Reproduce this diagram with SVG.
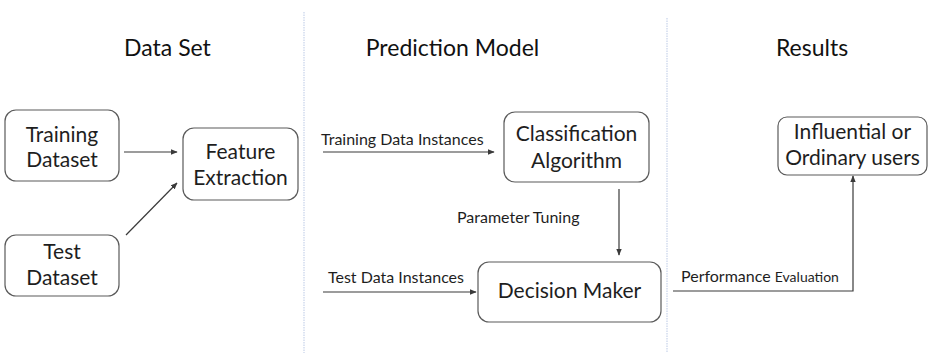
<svg xmlns="http://www.w3.org/2000/svg" width="928" height="353" viewBox="0 0 928 353">
  <style>
    .box { fill: #ffffff; stroke: #5a5a5a; stroke-width: 1.2; }
    .title { font-family: Lato, "Open Sans", sans-serif; font-size: 23px; fill: #111; text-anchor: middle; }
    .node { font-family: Lato, "Open Sans", sans-serif; font-size: 21px; fill: #1e1e1e; text-anchor: middle; }
    .lbl { font-family: Lato, "Open Sans", sans-serif; font-size: 16px; fill: #1e1e1e; }
    .small { font-size: 14px; }
    .divider { stroke: #d2dcee; stroke-width: 1.5; stroke-dasharray: 1.5 1; }
    .edge { fill: none; stroke: #3a3a3a; stroke-width: 1.2; }
  </style>
  <defs>
    <marker id="arrow" viewBox="0 0 10 10" refX="9" refY="5" markerWidth="7" markerHeight="7" markerUnits="userSpaceOnUse" orient="auto">
      <path d="M0,1 L10,5 L0,9 Z" fill="#3a3a3a"/>
    </marker>
  </defs>
  <rect width="928" height="353" fill="#ffffff"/>

  <!-- column separators -->
  <g id="dividers">
    <line class="divider" x1="304" y1="12" x2="304" y2="353"/>
    <line class="divider" x1="667" y1="18" x2="667" y2="353"/>
  </g>

  <!-- column headings -->
  <g id="headings">
    <text class="title" x="167.5" y="56">Data Set</text>
    <text class="title" x="452.5" y="56">Prediction Model</text>
    <text class="title" x="812" y="56">Results</text>
  </g>

  <g id="training-dataset">
    <rect class="box" x="5" y="110" width="114" height="71" rx="11"/>
    <text class="node" x="62" y="142">Training</text>
    <text class="node" x="62" y="167">Dataset</text>
  </g>
  <g id="test-dataset">
    <rect class="box" x="5" y="235" width="114" height="61" rx="11"/>
    <text class="node" x="62" y="259">Test</text>
    <text class="node" x="62" y="285">Dataset</text>
  </g>
  <g id="feature-extraction">
    <rect class="box" x="183" y="128" width="115" height="72" rx="11"/>
    <text class="node" x="240.5" y="159">Feature</text>
    <text class="node" x="240.5" y="185">Extraction</text>
  </g>
  <g id="classification-algorithm">
    <rect class="box" x="504" y="112" width="145" height="70" rx="11"/>
    <text class="node" x="576.5" y="141">Classification</text>
    <text class="node" x="576.5" y="168">Algorithm</text>
  </g>
  <g id="decision-maker">
    <rect class="box" x="478" y="262" width="183" height="60" rx="11"/>
    <text class="node" x="569.5" y="298">Decision Maker</text>
  </g>
  <g id="influential-users">
    <rect class="box" x="778" y="117" width="149" height="58" rx="9"/>
    <text class="node" x="852.5" y="139">Influential or</text>
    <text class="node" x="852.5" y="165">Ordinary users</text>
  </g>

  <!-- connectors and their labels -->
  <g id="connectors">
    <line class="edge" x1="124" y1="152" x2="177" y2="152" marker-end="url(#arrow)"/>
    <line class="edge" x1="126" y1="235" x2="177" y2="183" marker-end="url(#arrow)"/>

    <line class="edge" x1="323" y1="152" x2="494" y2="152" marker-end="url(#arrow)"/>
    <text class="lbl" x="321" y="145">Training Data Instances</text>

    <line class="edge" x1="619" y1="189" x2="619" y2="255" marker-end="url(#arrow)"/>
    <text class="lbl" x="457" y="223">Parameter Tuning</text>

    <line class="edge" x1="323" y1="292" x2="476" y2="292" marker-end="url(#arrow)"/>
    <text class="lbl" x="328" y="283">Test Data Instances</text>

    <polyline class="edge" points="673,291 853,291 853,176" marker-end="url(#arrow)"/>
    <text class="lbl" x="681" y="282">Performance <tspan class="small">Evaluation</tspan></text>
  </g>
</svg>
